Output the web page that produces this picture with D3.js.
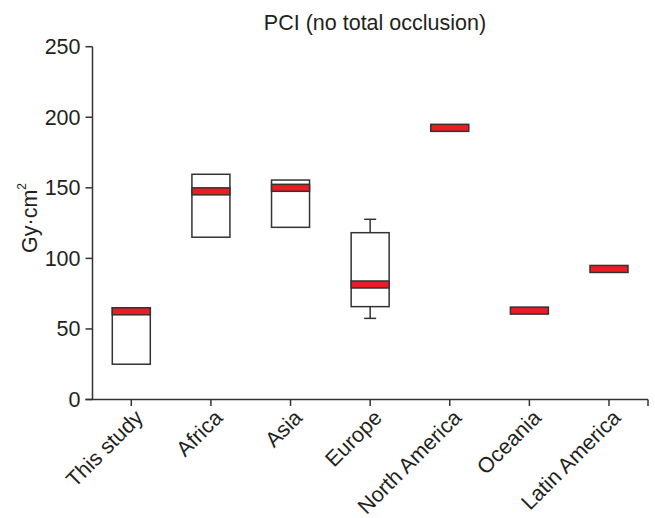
<!DOCTYPE html>
<html>
<head>
<meta charset="utf-8">
<script src="https://d3js.org/d3.v7.min.js"></script>
<style>
    body { margin: 0; background: #fff; }
    text { font-family: "Liberation Sans", Arial, sans-serif; fill: #231f20; }
</style>
</head>
<body>
<div id="chart"></div>
<script>
    // values (Gy·cm²)
    var categories = ["This study", "Africa", "Asia", "Europe", "North America", "Oceania", "Latin America"];
    var q1 = [25, 115, 122, 65.8, null, null, null];
    var q3 = [65, 159.6, 155.5, 118.2, null, null, null];
    var medians = [62.5, 147.5, 150, 81.5, 192.5, 63, 92.5];
    var whiskerLow = [null, null, null, 57.5, null, null, null];
    var whiskerHigh = [null, null, null, 127.7, null, null, null];
    var yTicks = [0, 50, 100, 150, 200, 250];

    var width = 655, height = 518;
    var stroke = "#333";
    var fs = 21.5;

    var svg = d3.select("#chart").append("svg")
        .attr("width", width)
        .attr("height", height);

    var y = d3.scaleLinear().domain([0, 250]).range([399.5, 46.7]);
    var x = d3.scalePoint().domain(categories).range([131.3, 609]);
    var axisLeft = 92.5, axisRight = 648;
    var boxW = 38, barH = 7;

    var data = categories.map(function (c, i) {
        return { name: c, q1: q1[i], q3: q3[i], med: medians[i], lo: whiskerLow[i], hi: whiskerHigh[i] };
    });

    // title
    svg.append("text")
        .attr("x", 375)
        .attr("y", 30)
        .attr("text-anchor", "middle")
        .attr("font-size", fs)
        .text("PCI (no total occlusion)");

    // y axis
    var yAxis = svg.append("g");
    yAxis.append("line")
        .attr("x1", axisLeft).attr("x2", axisLeft)
        .attr("y1", y(250)).attr("y2", y(0))
        .attr("stroke", stroke).attr("stroke-width", 1.5);
    yAxis.selectAll(".tk").data(yTicks).enter().append("line")
        .attr("x1", axisLeft - 7).attr("x2", axisLeft)
        .attr("y1", function (d) { return y(d); })
        .attr("y2", function (d) { return y(d); })
        .attr("stroke", stroke).attr("stroke-width", 1.5);
    yAxis.selectAll("text").data(yTicks).enter().append("text")
        .attr("x", axisLeft - 12)
        .attr("y", function (d) { return y(d); })
        .attr("dy", "0.35em")
        .attr("text-anchor", "end")
        .attr("font-size", fs)
        .text(function (d) { return d; });

    var ylab = svg.append("text")
        .attr("transform", "translate(37,218) rotate(-90)")
        .attr("text-anchor", "middle")
        .attr("font-size", fs);
    ylab.append("tspan").text("Gy·cm");
    ylab.append("tspan").attr("dy", -11).attr("font-size", 12).text("2");

    // x axis
    var xAxis = svg.append("g");
    xAxis.append("line")
        .attr("x1", axisLeft - 7).attr("x2", axisRight)
        .attr("y1", y(0)).attr("y2", y(0))
        .attr("stroke", stroke).attr("stroke-width", 1.5);
    xAxis.selectAll(".tk").data(categories.map(x).concat([axisRight])).enter().append("line")
        .attr("x1", function (d) { return d; })
        .attr("x2", function (d) { return d; })
        .attr("y1", y(0)).attr("y2", y(0) + 6.5)
        .attr("stroke", stroke).attr("stroke-width", 1.5);
    xAxis.selectAll("text").data(categories).enter().append("text")
        .attr("transform", function (d) { return "translate(" + (x(d) + 13) + "," + 419 + ") rotate(-45)"; })
        .attr("text-anchor", "end")
        .attr("font-size", fs)
        .text(function (d) { return d; });

    // whiskers
    var wh = data.filter(function (d) { return d.lo != null; });
    var g = svg.append("g");
    wh.forEach(function (d) {
        var cx = x(d.name);
        [[d.lo, d.q1], [d.hi, d.q3]].forEach(function (p) {
            g.append("line")
                .attr("x1", cx).attr("x2", cx)
                .attr("y1", y(p[0])).attr("y2", y(p[1]))
                .attr("stroke", stroke).attr("stroke-width", 1.5);
            g.append("line")
                .attr("x1", cx - 6).attr("x2", cx + 6)
                .attr("y1", y(p[0])).attr("y2", y(p[0]))
                .attr("stroke", stroke).attr("stroke-width", 1.5);
        });
    });

    // boxes
    g.selectAll(".box").data(data.filter(function (d) { return d.q1 != null; })).enter().append("rect")
        .attr("x", function (d) { return x(d.name) - boxW / 2; })
        .attr("y", function (d) { return y(d.q3); })
        .attr("width", boxW)
        .attr("height", function (d) { return y(d.q1) - y(d.q3); })
        .attr("fill", "none")
        .attr("stroke", stroke)
        .attr("stroke-width", 1.5);

    // medians (red bars)
    g.selectAll(".med").data(data).enter().append("rect")
        .attr("x", function (d) { return x(d.name) - boxW / 2; })
        .attr("y", function (d) { return y(d.med) - barH / 2; })
        .attr("width", boxW)
        .attr("height", barH)
        .attr("fill", "#ed1c24")
        .attr("stroke", stroke)
        .attr("stroke-width", 1.5);
</script>
</body>
</html>
